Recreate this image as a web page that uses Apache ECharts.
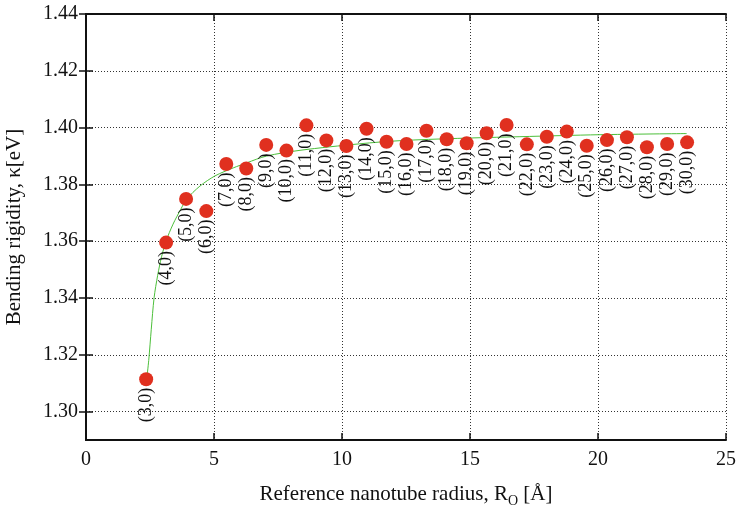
<!DOCTYPE html>
<html>
<head>
<meta charset="utf-8">
<script src="https://cdn.jsdelivr.net/npm/echarts@6/dist/echarts.min.js"></script>
<style>
  html, body { margin: 0; padding: 0; background: #fff; }
  #chart { width: 737px; height: 507px; }
</style>
</head>
<body>
<div id="chart"></div>
<script>
// Zigzag (n,0) nanotubes: reference radius R_O [Å] and bending rigidity κ [eV]
const tubeLabels = ['(3,0)', '(4,0)', '(5,0)', '(6,0)', '(7,0)', '(8,0)', '(9,0)', '(10,0)',
  '(11,0)', '(12,0)', '(13,0)', '(14,0)', '(15,0)', '(16,0)', '(17,0)', '(18,0)', '(19,0)',
  '(20,0)', '(21,0)', '(22,0)', '(23,0)', '(24,0)', '(25,0)', '(26,0)', '(27,0)', '(28,0)',
  '(29,0)', '(30,0)'];
const radius = [2.35, 3.13, 3.91, 4.70, 5.48, 6.26, 7.04, 7.83, 8.61, 9.39, 10.17, 10.96,
  11.74, 12.52, 13.30, 14.09, 14.87, 15.65, 16.43, 17.22, 18.00, 18.78, 19.56, 20.35, 21.13,
  21.91, 22.70, 23.48];
const rigidity = [1.3114, 1.3595, 1.3749, 1.3706, 1.3872, 1.3856, 1.3939, 1.3919, 1.4008,
  1.3955, 1.3935, 1.3996, 1.3950, 1.3942, 1.3989, 1.3959, 1.3945, 1.3980, 1.4009, 1.3941,
  1.3968, 1.3986, 1.3936, 1.3956, 1.3966, 1.3931, 1.3942, 1.3948];

// Fitted curve samples
const fitR = [2.37, 2.45, 2.55, 2.66, 2.80, 2.95, 3.13, 3.40, 3.70, 3.93, 4.45, 5.04, 5.75,
  6.28, 7.06, 8.36, 10.70, 12.27, 14.50, 16.95, 20.08, 23.46];
const fitK = [1.3114, 1.3180, 1.3290, 1.3401, 1.3480, 1.3545, 1.3601, 1.3660, 1.3712, 1.3748,
  1.3794, 1.3830, 1.3858, 1.3876, 1.3900, 1.3920, 1.3943, 1.3954, 1.3962, 1.3968, 1.3975,
  1.3979];

const xTicks = [0, 5, 10, 15, 20, 25];
const yTicks = [1.30, 1.32, 1.34, 1.36, 1.38, 1.40, 1.42, 1.44];

const serif = 'Liberation Serif';
const ink = '#111';

const points = radius.map((r, i) => [r, rigidity[i], tubeLabels[i]]);
const fitLine = fitR.map((r, i) => [r, fitK[i]]);

const gridLine = { show: true, lineStyle: { color: '#333', width: 1, type: [1, 2] } };
const tick = { show: true, inside: true, length: 7, lineStyle: { color: ink, width: 1.5 } };
const axisLine = { show: true, lineStyle: { color: ink, width: 2 } };

const chart = echarts.init(document.getElementById('chart'), null, { renderer: 'canvas' });
chart.setOption({
  backgroundColor: '#fff',
  animation: false,
  grid: { left: 86, right: 11, top: 14, bottom: 67, containLabel: false, outerBoundsMode: 'none' },
  xAxis: [{
    type: 'value', min: 0, max: 25, interval: 5, position: 'bottom',
    axisLine: axisLine,
    axisTick: Object.assign({ customValues: xTicks }, tick),
    splitLine: gridLine,
    axisLabel: { customValues: xTicks, color: ink, fontFamily: serif, fontSize: 20, margin: 10 },
    name: '{n|Reference nanotube radius, R}{s|O}{n| [Å]}',
    nameLocation: 'middle', nameGap: 40,
    nameTextStyle: {
      color: ink, fontFamily: serif, fontSize: 21,
      rich: {
        n: { fontFamily: serif, fontSize: 21, color: ink, lineHeight: 28, verticalAlign: 'middle' },
        s: { fontFamily: serif, fontSize: 14, color: ink, lineHeight: 28, verticalAlign: 'bottom' }
      }
    }
  }, {
    type: 'value', min: 0, max: 25, interval: 5, position: 'top',
    axisLine: axisLine, axisTick: tick, splitLine: { show: false },
    axisLabel: { show: false }
  }],
  yAxis: [{
    type: 'value', min: 1.29, max: 1.44, position: 'left',
    axisLine: axisLine,
    axisTick: Object.assign({ customValues: yTicks }, tick),
    splitLine: gridLine,
    axisLabel: {
      customValues: yTicks, color: ink, fontFamily: serif, fontSize: 20, margin: 8,
      formatter: v => v.toFixed(2)
    },
    name: 'Bending rigidity, κ[eV]',
    nameLocation: 'middle', nameRotate: 90, nameGap: 61,
    nameTextStyle: { color: ink, fontFamily: serif, fontSize: 21 }
  }, {
    type: 'value', min: 1.29, max: 1.44, position: 'right',
    axisLine: axisLine,
    axisTick: Object.assign({ customValues: yTicks }, tick),
    splitLine: { show: false },
    axisLabel: { show: false, customValues: yTicks }
  }],
  series: [{
    type: 'line',
    data: fitLine,
    smooth: 0.3,
    showSymbol: false,
    lineStyle: { color: '#4cbf3a', width: 1 },
    z: 3
  }, {
    type: 'scatter',
    data: points,
    symbolSize: 14,
    itemStyle: { color: '#e0301f', opacity: 1 },
    z: 4,
    label: {
      show: true,
      position: 'bottom',
      distance: 3,
      rotate: 90,
      align: 'right',
      verticalAlign: 'middle',
      offset: [1.5, 0],
      formatter: p => p.data[2],
      color: ink,
      textBorderWidth: 0,
      fontFamily: serif,
      fontSize: 18
    }
  }]
});
</script>
</body>
</html>
